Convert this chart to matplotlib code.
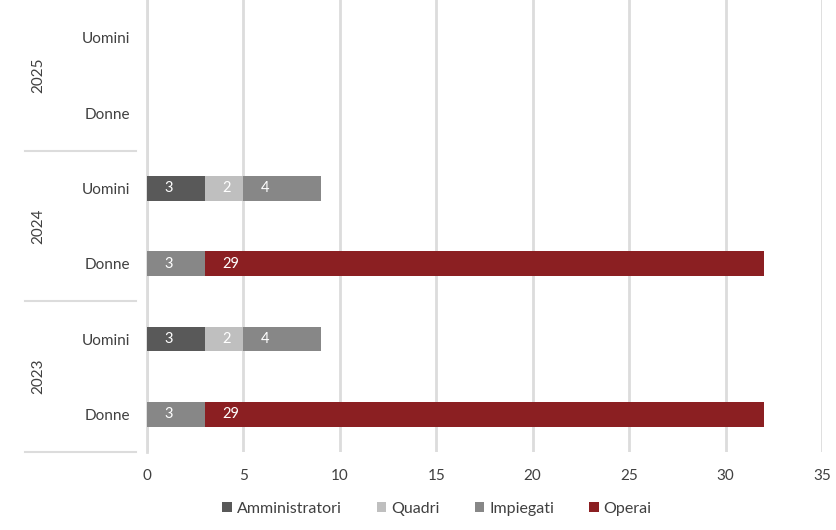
import matplotlib
matplotlib.use("Agg")
import matplotlib.pyplot as plt
import matplotlib.transforms as mtransforms
import numpy as np

plt.rcParams.update({"font.family": ["Lato", "DejaVu Sans"], "font.size": 10})

# rows from bottom to top
years = ["2023", "2024", "2025"]
genders = ["Donne", "Uomini"]
categories = ["Amministratori", "Quadri", "Impiegati", "Operai"]
colors = ["#595959", "#bfbfbf", "#878787", "#8b1f22"]

# values per row: 2023 Donne, 2023 Uomini, 2024 Donne, 2024 Uomini, 2025 Donne, 2025 Uomini
amministratori = [0, 3, 0, 3, 0, 0]
quadri         = [0, 2, 0, 2, 0, 0]
impiegati      = [3, 4, 3, 4, 0, 0]
operai         = [29, 0, 29, 0, 0, 0]
series = [amministratori, quadri, impiegati, operai]

fig = plt.figure(figsize=(8.37, 5.30), dpi=100)
ax = fig.add_axes([0.1756, 0.147, 0.8064, 0.853])

y = np.arange(len(amministratori))
left = np.zeros(len(y))
for vals, name, col in zip(series, categories, colors):
    vals = np.array(vals, dtype=float)
    ax.barh(y, vals, left=left, height=0.33, color=col, label=name, zorder=3)
    for yi, v, l in zip(y, vals, left):
        if v > 0:
            ax.text(l + 0.9, yi, f"{int(v)}", color="white", va="center",
                    ha="left", fontsize=10.5, zorder=4)
    left += vals

ax.set_xlim(0, 35)
ax.set_ylim(-0.5, 5.5)
ax.set_xticks(range(0, 36, 5))
ax.tick_params(axis="x", length=0, pad=12, labelsize=11, colors="#404040")
ax.set_yticks(y)
ax.set_yticklabels(genders * len(years))
ax.tick_params(axis="y", length=0, pad=12, labelsize=11, colors="#404040")
ax.grid(axis="x", color="#dcdcdc", lw=2, zorder=0)
for s in ["top", "right", "bottom"]:
    ax.spines[s].set_visible(False)
ax.spines["left"].set_color("#dcdcdc")
ax.spines["left"].set_linewidth(2)

# year group labels and separators
trans = mtransforms.blended_transform_factory(fig.transFigure, ax.transData)
for i, yr in enumerate(years):
    ax.text(0.046, 2 * i + 0.5, yr, rotation=90, ha="center", va="center",
            fontsize=11, color="#404040", transform=trans)
for ys in [-0.5, 1.5, 3.5]:
    ax.plot([0.03, 0.162], [ys, ys], color="#dcdcdc", lw=1.5,
            transform=trans, clip_on=False)

fig.legend(loc="lower center", bbox_to_anchor=(0.522, 0.0), ncol=4,
           frameon=False, fontsize=11.5, handlelength=0.6, handleheight=0.6,
           columnspacing=2.2, handletextpad=0.3, labelcolor="#404040")

fig.savefig("out.png", dpi=100, facecolor="white")
